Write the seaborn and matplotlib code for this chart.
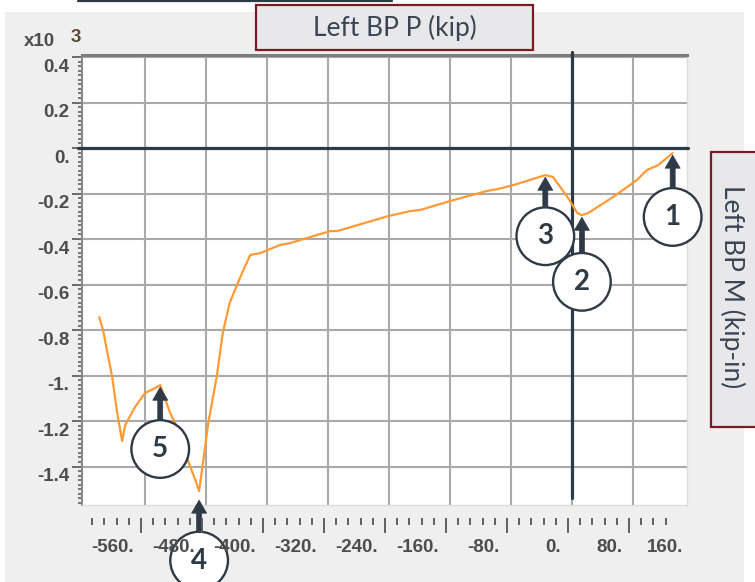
import numpy as np
import pandas as pd
import matplotlib
matplotlib.use("Agg")
import matplotlib.pyplot as plt
import matplotlib.transforms as mtransforms
from matplotlib.patches import Rectangle
from matplotlib.lines import Line2D
from matplotlib.ticker import MultipleLocator
import seaborn as sns

# Left base plate: moment (x10^3 kip-in) against axial load (kip)
p_kip = [-620, -615, -603, -597, -590, -586, -573, -560, -549, -540,
         -527, -518, -504, -494, -489, -484, -477, -466, -458, -449,
         -435, -422, -409, -383, -370, -317, -308, -241, -212, -199,
         -160, -112, -97, -77, -35, -25, -5, 7, 13, 21,
         54, 85, 98, 113, 132]
m_kip_in_k = [-0.743, -0.800, -1.007, -1.152, -1.288, -1.218, -1.138, -1.077, -1.059, -1.042,
              -1.165, -1.226, -1.371, -1.459, -1.508, -1.385, -1.209, -1.007, -0.813, -0.681,
              -0.567, -0.470, -0.462, -0.426, -0.418, -0.365, -0.365, -0.299, -0.277, -0.272,
              -0.233, -0.189, -0.180, -0.163, -0.119, -0.127, -0.220, -0.286, -0.295, -0.286,
              -0.215, -0.141, -0.097, -0.075, -0.022]

# numbered callouts and the curve sample each one points at
callout_labels = ["1", "2", "3", "4", "5"]
callout_index = [44, 38, 34, 14, 9]

x_grid = [-560, -480, -400, -320, -240, -160, -80, 0, 80]
x_tick_vals = [-560, -480, -400, -320, -240, -160, -80, 0, 80, 160]
x_tick_labels = ["-560.", "-480.", "-400.", "-320.", "-240.", "-160.", "-80.", "0.", "80.", "160."]
y_tick_vals = [0.4, 0.2, 0.0, -0.2, -0.4, -0.6, -0.8, -1.0, -1.2, -1.4]
y_tick_labels = ["0.4", "0.2", "0.", "-0.2", "-0.4", "-0.6", "-0.8", "-1.", "-1.2", "-1.4"]

x_title = "Left BP P (kip)"
y_title = "Left BP M (kip-in)"
y_multiplier = ("x10", "3")

# ---- styling / layout ----
W, H = 755, 582
DPI = 100
DARK = "#2e3a46"
TICK_GRAY = "#555555"
LABEL_GRAY = "#4d4d4d"
PANEL = "#efefef"
BOX_FACE = "#e8e8eb"
BOX_EDGE = "#7a1a22"
CURVE = "#ff9a35"
TICK_FS = 13.5

AX_L, AX_R, AX_T, AX_B = 82, 687, 55, 505  # plot frame, pixels
XLIM = (-642.6, 150.8)
YLIM = (-1.569, 0.409)

sns.set_style("white")
plt.rcParams["font.family"] = ["Liberation Sans", "DejaVu Sans"]

fig = plt.figure(figsize=(W / DPI, H / DPI), dpi=DPI, facecolor="white")

def fx(px):
    return px / W

def fy(py):
    return (H - py) / H

# grey panel behind the chart
fig.patches.append(Rectangle((fx(5), 0), fx(744) - fx(5), fy(12), transform=fig.transFigure,
                             facecolor=PANEL, edgecolor="none", zorder=-10))
fig.add_artist(Line2D([fx(78), fx(392)], [fy(0.6), fy(0.6)], color=DARK, lw=1.6))

ax = fig.add_axes([fx(AX_L), fy(AX_B), fx(AX_R) - fx(AX_L), fy(AX_T) - fy(AX_B)])
ax.set_facecolor("white")

df = pd.DataFrame({"P": p_kip, "M": m_kip_in_k})
sns.lineplot(data=df, x="P", y="M", ax=ax, color=CURVE, lw=1.6, sort=False,
             estimator=None, zorder=4)
ax.set_xlim(*XLIM)
ax.set_ylim(*YLIM)
ax.set_xlabel("")
ax.set_ylabel("")

# grid
ax.set_xticks(x_grid)
ax.tick_params(axis="x", bottom=False, length=0, labelbottom=False)
ax.grid(True, which="major", color="#a9a9a9", lw=1.5, zorder=1)
ax.set_axisbelow(True)

# y axis ticks and labels
ax.set_yticks(y_tick_vals, y_tick_labels)
ax.yaxis.set_minor_locator(MultipleLocator(0.02))
ax.tick_params(axis="y", which="major", left=True, direction="out", length=7.5, width=1.2,
               color=TICK_GRAY, pad=1.5, labelsize=TICK_FS, labelcolor=LABEL_GRAY)
ax.tick_params(axis="y", which="minor", left=True, direction="out", length=3, width=1.1,
               color=TICK_GRAY)
shift_down = mtransforms.ScaledTranslation(0, -8 / DPI, fig.dpi_scale_trans)
for lab in ax.get_yticklabels():
    lab.set_transform(lab.get_transform() + shift_down)
    lab.set_fontweight("bold")

for side, col, lw in [("left", "#8a8a8a", 1.5), ("top", "#7d7d7d", 2.2),
                      ("right", "#dcdcdc", 1.0), ("bottom", "#dcdcdc", 1.0)]:
    ax.spines[side].set_visible(True)
    ax.spines[side].set_color(col)
    ax.spines[side].set_linewidth(lw)

# zero axes
ax.axhline(0, xmin=-0.0066, xmax=1.0017, color=DARK, lw=2.3, zorder=3, clip_on=False)
ax.axvline(0, ymin=0.0156, ymax=1.0067, color=DARK, lw=2.3, zorder=3, clip_on=False)

# callouts
callout_dy = [-46, -48, -44, -50, -46]
callout_gap = [1.5, 1.5, 1.5, 6.5, 1.5]
for lab, idx, dy, gap in zip(callout_labels, callout_index, callout_dy, callout_gap):
    ax.annotate(lab, xy=(p_kip[idx], m_kip_in_k[idx]), xycoords="data",
                xytext=(0, dy), textcoords="offset points",
                ha="center", va="center", fontsize=20, fontweight="bold",
                family="Lato", color=DARK,
                bbox=dict(boxstyle="circle,pad=0.57", fc="white", ec=DARK, lw=1.7),
                arrowprops=dict(arrowstyle="simple,head_length=0.94,head_width=1.08,tail_width=0.36",
                                mutation_scale=10, fc=DARK, ec=DARK, lw=0.5,
                                shrinkA=0, shrinkB=gap),
                annotation_clip=False, zorder=6)

# ruler-style x scale below the frame
px_per_unit = (AX_R - AX_L) / (XLIM[1] - XLIM[0])
RUL_L, RUL_W = 78, 620
rul = fig.add_axes([fx(RUL_L), fy(518), RUL_W / W, 0.0002])
rul.set_xlim(XLIM[0], XLIM[0] + RUL_W / px_per_unit)
rul.set_facecolor("none")
for s in rul.spines.values():
    s.set_visible(False)
rul.set_yticks([])
rul.set_xticks(x_tick_vals, x_tick_labels)
rul.set_xticks([v for v in range(-624, 137, 16) if v % 80 != 0], minor=True)
rul.tick_params(axis="x", which="major", bottom=True, direction="out", length=11, width=1.3,
                color=TICK_GRAY, pad=4, labelsize=TICK_FS, labelcolor=LABEL_GRAY)
rul.tick_params(axis="x", which="minor", bottom=True, direction="out", length=5, width=1.3,
                color=TICK_GRAY)
shift_left = mtransforms.ScaledTranslation(-7 / DPI, 0, fig.dpi_scale_trans)
for lab in rul.get_xticklabels():
    lab.set_horizontalalignment("right")
    lab.set_transform(lab.get_transform() + shift_left)
    lab.set_fontweight("bold")
rul.xaxis.get_major_ticks()[-1].tick1line.set_visible(False)

# multiplier for the y values
fig.text(fx(39), fy(42), y_multiplier[0], ha="center", va="center", fontsize=TICK_FS,
         color=LABEL_GRAY, fontweight="bold")
fig.text(fx(76), fy(37), y_multiplier[1], ha="center", va="center", fontsize=TICK_FS,
         color="#5a4a3a", fontweight="bold")

# boxed axis titles
fig.patches.append(Rectangle((fx(256), fy(50)), fx(533) - fx(256), fy(5) - fy(50),
                             transform=fig.transFigure, facecolor=BOX_FACE,
                             edgecolor=BOX_EDGE, lw=1.6, zorder=5))
fig.text(fx(394.5), fy(28), x_title, ha="center", va="center", fontsize=19,
         family="Lato", color="#3a4452", zorder=6)
fig.patches.append(Rectangle((fx(711), fy(427)), fx(770) - fx(711), fy(152) - fy(427),
                             transform=fig.transFigure, facecolor=BOX_FACE,
                             edgecolor=BOX_EDGE, lw=1.6, zorder=5))
fig.text(fx(732), fy(287), y_title, ha="center", va="center", rotation=-90, fontsize=19,
         family="Lato", color="#3a4452", zorder=6)

fig.savefig("out.png", dpi=DPI, facecolor="white")
